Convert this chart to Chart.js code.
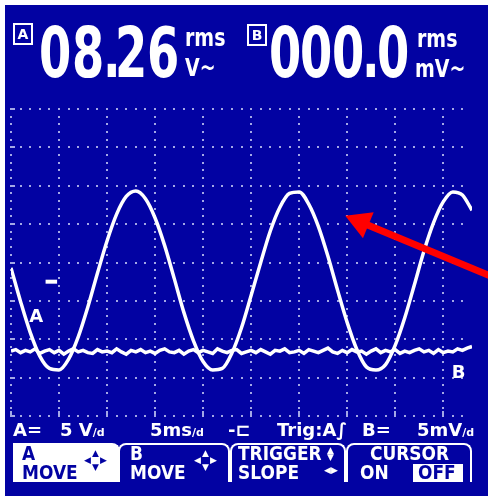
<!DOCTYPE html>
<html>
<head>
<meta charset="utf-8">
<script src="https://cdn.jsdelivr.net/npm/chart.js@4"></script>
<style>
  html, body { margin: 0; padding: 0; background: #fff; width: 488px; height: 496px; overflow: hidden; }
  #screen { position: absolute; left: 5px; top: 5px; width: 483px; height: 491px; background: #0202a2; }
  #wrap { position: absolute; left: 0; top: 0; width: 488px; height: 496px; }
  .t { position: absolute; color: #fff; font-family: "DejaVu Sans", sans-serif; font-weight: 700;
       white-space: nowrap; transform-origin: 0 0; }
  .box { position: absolute; border: 2px solid #fff; box-sizing: border-box; width: 20px; height: 22px;
         color: #fff; font: 700 14px/18px "DejaVu Sans", sans-serif; text-align: center; }
  .dig { font-size: 40px; line-height: 40px; transform: scale(1.16, 1.75); }
  .unit { font-size: 19px; line-height: 19px; transform: scaleY(1.35); }
  .info { font-size: 18px; line-height: 18px; }
  .sm { font-size: 11px; }
  .menu { font-size: 20px; line-height: 20px; transform: scaleX(0.85); }
  .tab { position: absolute; top: 443px; height: 39px; box-sizing: border-box;
         border: 2px solid #fff; border-bottom: none; border-radius: 8px 8px 0 0; }
  .ico { position: absolute; font-family: "DejaVu Sans", sans-serif; font-size: 9px; line-height: 9px; }
</style>
</head>
<body>
<div id="screen"></div>
<div id="wrap"><canvas id="scope"></canvas></div>

<!-- measurement readouts -->
<div class="box" style="left:13px; top:23px;">A</div>
<div id="readA"></div>
<div class="t unit" style="left:185px; top:24px;">rms</div>
<div class="t unit" style="left:185px; top:54px;">V~</div>

<div class="box" style="left:247px; top:24px;">B</div>
<div id="readB"></div>
<div class="t unit" style="left:417px; top:25px;">rms</div>
<div class="t unit" style="left:415px; top:55px;">mV~</div>

<!-- status line -->
<div class="t info" style="left:13px; top:421px;">A=</div>
<div class="t info" style="left:60px; top:421px;">5 V<span class="sm">/d</span></div>
<div class="t info" style="left:150px; top:421px;">5ms<span class="sm">/d</span></div>
<div class="t info" style="left:228px; top:421px;">-⊏</div>
<div class="t info" style="left:277px; top:421px;">Trig:A∫</div>
<div class="t info" style="left:362px; top:421px;">B=</div>
<div class="t info" style="left:417px; top:421px;">5mV<span class="sm">/d</span></div>

<!-- soft-key menu -->
<div class="tab" style="left:13px; width:107px; background:#fff; border-radius:0 8px 0 0;"></div>
<div class="tab" style="left:118px; width:112px;"></div>
<div class="tab" style="left:230px; width:116px;"></div>
<div class="tab" style="left:346px; width:126px;"></div>

<div class="t menu" style="left:22px; top:443px; color:#0202a2;">A</div>
<div class="t menu" style="left:22px; top:462px; color:#0202a2;">MOVE</div>
<div class="ico" style="left:84px; top:456px; color:#0202a2;">◀</div>
<div class="ico" style="left:100px; top:456px; color:#0202a2;">▶</div>
<div class="ico" style="left:92px; top:449px; color:#0202a2;">▲</div>
<div class="ico" style="left:92px; top:463px; color:#0202a2;">▼</div>

<div class="t menu" style="left:130px; top:443px;">B</div>
<div class="t menu" style="left:130px; top:462px;">MOVE</div>
<div class="ico" style="left:194px; top:456px; color:#fff;">◀</div>
<div class="ico" style="left:210px; top:456px; color:#fff;">▶</div>
<div class="ico" style="left:202px; top:449px; color:#fff;">▲</div>
<div class="ico" style="left:202px; top:463px; color:#fff;">▼</div>

<div class="t menu" style="left:238px; top:443px;">TRIGGER</div>
<div class="ico" style="left:327px; top:446px; color:#fff;">▲</div>
<div class="ico" style="left:327px; top:453px; color:#fff;">▼</div>
<div class="t menu" style="left:238px; top:462px;">SLOPE</div>
<div class="ico" style="left:324px; top:466px; color:#fff;">◀▶</div>

<div class="t menu" style="left:370px; top:443px;">CURSOR</div>
<div class="t menu" style="left:360px; top:462px;">ON</div>
<div style="position:absolute; left:413px; top:464px; width:50px; height:18px; background:#fff;"></div>
<div class="t menu" style="left:418px; top:462px; color:#0202a2;">OFF</div>

<script>
// Channel A: mains voltage, volts, sampled every millisecond
const timeA = [0, 1, 2, 3, 4, 5, 6, 7, 8, 9, 10, 11, 12, 13, 14, 15, 16, 17, 18, 19, 20,
  21, 22, 23, 24, 25, 26, 27, 28, 29, 30, 31, 32, 33, 34, 35, 36, 37, 38, 39, 40,
  41, 42, 43, 44, 45, 46, 47, 48];
const voltsA = [1.8, -2.6, -6.6, -9.7, -11.3, -11.5, -10.1, -7.2, -3.3, 1.1, 5.3,
  8.8, 11.1, 11.8, 10.8, 8.3, 4.7, 0.4, -4.0, -7.7, -10.4,
  -11.5, -11.3, -9.3, -6.0, -1.8, 2.5, 6.6, 9.7, 11.5, 11.7,
  10.1, 7.2, 3.3, -1.1, -5.3, -8.8, -11.1, -11.5, -10.8, -8.3,
  -4.7, -0.4, 4.0, 7.7, 10.4, 11.7, 11.3, 9.3];

// Channel B: residual noise, millivolts, sampled every half millisecond
const timeB = [0, 0.5, 1, 1.5, 2, 2.5, 3, 3.5, 4, 4.5, 5, 5.5, 6, 6.5, 7, 7.5, 8, 8.5, 9, 9.5,
  10, 10.5, 11, 11.5, 12, 12.5, 13, 13.5, 14, 14.5, 15, 15.5, 16, 16.5, 17, 17.5, 18, 18.5, 19, 19.5,
  20, 20.5, 21, 21.5, 22, 22.5, 23, 23.5, 24, 24.5, 25, 25.5, 26, 26.5, 27, 27.5, 28, 28.5, 29, 29.5,
  30, 30.5, 31, 31.5, 32, 32.5, 33, 33.5, 34, 34.5, 35, 35.5, 36, 36.5, 37, 37.5, 38, 38.5, 39, 39.5,
  40, 40.5, 41, 41.5, 42, 42.5, 43, 43.5, 44, 44.5, 45, 45.5, 46, 46.5, 47, 47.5, 48];
const milliVoltsB = [0.2, 0.4, 0.0, 0.3, 0.1, 0.5, -0.1, 0.2, 0.4, 0.0,
  0.3, -0.2, 0.2, 0.5, 0.1, 0.3, 0.0, -0.1, 0.4, 0.1,
  0.2, 0.0, 0.5, 0.1, -0.2, 0.3, 0.1, 0.4, 0.0, 0.2,
  -0.1, 0.3, 0.5, 0.1, 0.0, 0.3, -0.2, 0.2, 0.4, 0.0,
  0.3, 0.1, -0.1, 0.5, 0.2, 0.0, 0.3, 0.4, -0.1, 0.1,
  0.3, 0.0, 0.4, 0.1, -0.2, 0.3, 0.2, 0.5, 0.0, 0.1,
  0.3, -0.1, 0.4, 0.2, 0.0, 0.3, 0.6, 0.1, -0.1, 0.3,
  0.0, 0.4, 0.1, 0.2, -0.2, 0.2, 0.5, 0.0, 0.3, 0.1,
  0.4, -0.1, 0.2, 0.0, 0.3, 0.5, 0.1, 0.3, -0.1, 0.4,
  0.0, 0.2, 0.1, 0.5, 0.3, 0.6, 0.8];

// Graticule: 5 ms/div horizontally, 5 V/div (A) vertically
const timeDivs = [0, 5, 10, 15, 20, 25, 30, 35, 40, 45];
const voltDivs = [22.5, 17.5, 12.5, 7.5, 2.5, -2.5, -7.5, -12.5, -17.5];

// Readouts
const readoutA = ['0', '8', '.', '2', '6'];
const readoutAPos = [39, 72, 103, 115, 147];
const readoutB = ['0', '0', '0', '.', '0'];
const readoutBPos = [269, 300, 332, 362, 377];

function buildReadout(id, chars, pos) {
  const host = document.getElementById(id);
  chars.forEach((c, i) => {
    const s = document.createElement('div');
    s.className = 't dig';
    s.style.left = pos[i] + 'px';
    s.style.top = '17px';
    s.textContent = c;
    host.appendChild(s);
  });
}
buildReadout('readA', readoutA, readoutAPos);
buildReadout('readB', readoutB, readoutBPos);

const DOT = '#a3a8e6';

// dotted graticule drawn on the scales
const graticule = {
  id: 'graticule',
  beforeDatasetsDraw(chart) {
    const { ctx, scales: { x, y } } = chart;
    ctx.save();
    ctx.fillStyle = DOT;
    const vTop = voltDivs[0], vBot = voltDivs[voltDivs.length - 1];
    const tEnd = 47;
    for (const t of timeDivs) {
      const px = Math.round(x.getPixelForValue(t));
      for (let v = vBot; v <= vTop + 0.01; v += 1) {
        ctx.fillRect(px - 1, Math.round(y.getPixelForValue(v)) - 1, 2, 2);
      }
      // longer tick on the bottom edge
      ctx.fillRect(px - 1, Math.round(y.getPixelForValue(vBot)) - 5, 2, 5);
    }
    for (const v of voltDivs) {
      const py = Math.round(y.getPixelForValue(v));
      for (let t = 0; t <= tEnd; t += 1) {
        ctx.fillRect(Math.round(x.getPixelForValue(t)) - 1, py - 1, 2, 2);
      }
      ctx.fillRect(Math.round(x.getPixelForValue(0)) - 1, py - 1, 5, 2);
    }
    ctx.restore();
  },
  afterDatasetsDraw(chart) {
    const { ctx, scales: { x, y, yB } } = chart;
    ctx.save();
    ctx.fillStyle = '#fff';
    // channel A ground marker
    const gy = y.getPixelForValue(0);
    ctx.fillRect(x.getPixelForValue(3.6), gy - 2, x.getPixelForValue(4.8) - x.getPixelForValue(3.6), 4);
    ctx.font = '700 18px "DejaVu Sans", sans-serif';
    ctx.textBaseline = 'alphabetic';
    ctx.fillText('A', x.getPixelForValue(1.9), y.getPixelForValue(-5.3));
    ctx.fillText('B', x.getPixelForValue(45.9), yB.getPixelForValue(-3.3));
    ctx.restore();
  },
  afterDraw(chart) {
    const { ctx, scales: { x, y } } = chart;
    const tip = { x: x.getPixelForValue(34.8), y: y.getPixelForValue(8.6) };
    const tail = { x: x.getPixelForValue(50.4), y: y.getPixelForValue(0.5) };
    const dx = tail.x - tip.x, dy = tail.y - tip.y;
    const len = Math.hypot(dx, dy);
    const ux = dx / len, uy = dy / len;
    const headLen = 25, halfW = 14;
    const bx = tip.x + ux * headLen, by = tip.y + uy * headLen;
    ctx.save();
    ctx.strokeStyle = '#ff0000';
    ctx.fillStyle = '#ff0000';
    ctx.lineWidth = 7;
    ctx.beginPath();
    ctx.moveTo(bx - ux * 2, by - uy * 2);
    ctx.lineTo(tail.x, tail.y);
    ctx.stroke();
    ctx.beginPath();
    ctx.moveTo(tip.x, tip.y);
    ctx.lineTo(bx - uy * halfW, by + ux * halfW);
    ctx.lineTo(bx + uy * halfW, by - ux * halfW);
    ctx.closePath();
    ctx.fill();
    ctx.restore();
  }
};

new Chart(document.getElementById('scope'), {
  type: 'line',
  data: {
    datasets: [
      {
        label: 'A',
        data: timeA.map((t, i) => ({ x: t, y: voltsA[i] })),
        yAxisID: 'y',
        borderColor: '#ffffff',
        borderWidth: 3.5,
        cubicInterpolationMode: 'monotone',
        pointRadius: 0
      },
      {
        label: 'B',
        data: timeB.map((t, i) => ({ x: t, y: milliVoltsB[i] })),
        yAxisID: 'yB',
        borderColor: '#ffffff',
        borderWidth: 3.5,
        tension: 0,
        pointRadius: 0
      }
    ]
  },
  options: {
    responsive: true,
    maintainAspectRatio: false,
    animation: false,
    events: [],
    layout: { padding: { left: 11, right: 16, top: 109, bottom: 80 } },
    plugins: { legend: { display: false }, tooltip: { enabled: false } },
    scales: {
      x: { type: 'linear', min: 0, max: 48, display: false },
      y: { type: 'linear', min: -17.5, max: 22.5, display: false },
      yB: { type: 'linear', min: -8.25, max: 31.75, display: false }
    }
  },
  plugins: [graticule]
});
</script>
</body>
</html>
